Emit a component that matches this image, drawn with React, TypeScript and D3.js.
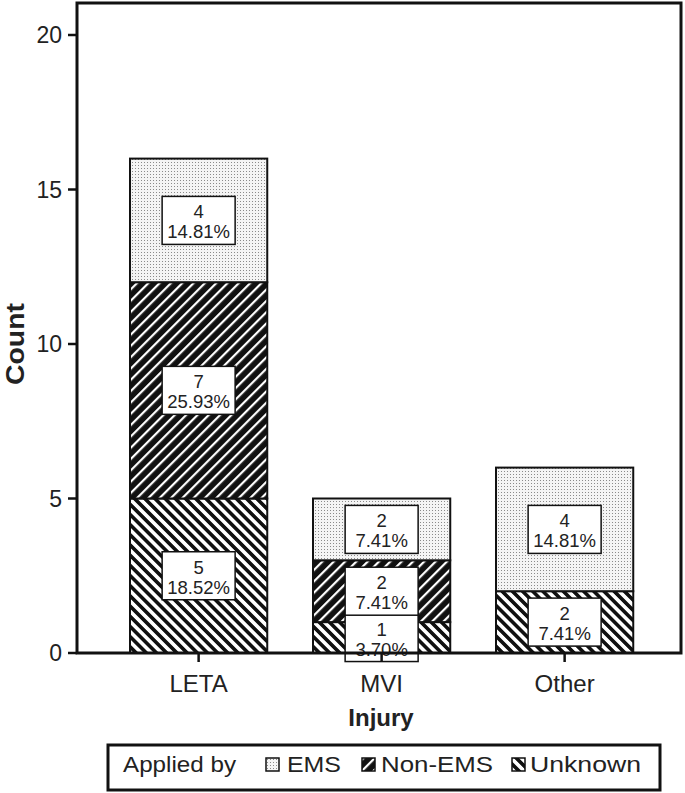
import React from "react";
import * as d3 from "d3";

const categories = ["LETA", "MVI", "Other"];
const seriesNames = ["Unknown", "Non-EMS", "EMS"];
const unknownVals = [5, 1, 2];
const nonEmsVals = [7, 2, 0];
const emsVals = [4, 2, 4];
const unknownPct = ["18.52%", "3.70%", "7.41%"];
const nonEmsPct = ["25.93%", "7.41%", "0%"];
const emsPct = ["14.81%", "7.41%", "14.81%"];
const yTicks = [0, 5, 10, 15, 20];

const W = 685, H = 793;
const left = 77, right = 681, top = 3, bottom = 653;
const FONT = "'Liberation Sans', Arial, Helvetica, sans-serif";

export default function App() {
  const y = d3.scaleLinear().domain([0, 20]).range([bottom, 35]);
  const x = d3.scaleBand().domain(categories).range([84.25, 679]).paddingInner(0.25).paddingOuter(0.25);
  const rows = categories.map((c, i) => ({ cat: c, Unknown: unknownVals[i], "Non-EMS": nonEmsVals[i], EMS: emsVals[i] }));
  const stack = d3.stack<any>().keys(seriesNames)(rows);
  const pctMap: Record<string, string[]> = { Unknown: unknownPct, "Non-EMS": nonEmsPct, EMS: emsPct };
  const fillMap: Record<string, string> = { Unknown: "url(#pUnk)", "Non-EMS": "url(#pNon)", EMS: "url(#pEms)" };
  const bw = x.bandwidth();
  const boxW = 73, boxH = 48;

  const legendItems = [
    { name: "EMS", sx: 266, tx: 287, len: 54 },
    { name: "Non-EMS", sx: 362, tx: 381, len: 112 },
    { name: "Unknown", sx: 512, tx: 530, len: 111 },
  ];

  return (
    <svg width={W} height={H} style={{ position: "absolute", left: 0, top: 0 }} fontFamily={FONT}>
      <defs>
        <pattern id="pEms" width="3" height="3" patternUnits="userSpaceOnUse">
          <rect width="3" height="3" fill="#f4f4f4" />
          <rect x="0" y="0" width="1" height="1" fill="#8a8a8a" />
        </pattern>
        <pattern id="pNon" width="8" height="8" patternUnits="userSpaceOnUse" patternTransform="rotate(45)">
          <rect width="8" height="8" fill="#111" />
          <rect x="0" y="0" width="2.2" height="8" fill="#fff" />
        </pattern>
        <pattern id="pUnk" width="7.2" height="7.2" patternUnits="userSpaceOnUse" patternTransform="rotate(-45)">
          <rect width="7.2" height="7.2" fill="#fff" />
          <rect x="0" y="0" width="3.6" height="7.2" fill="#111" />
        </pattern>
      </defs>
      <rect x={0} y={0} width={W} height={H} fill="#fff" />

      {stack.map((s) => (
        <g key={s.key}>
          {s.map((d, i) =>
            d[1] - d[0] > 0 ? (
              <rect key={i} x={x(categories[i])!} y={y(d[1])} width={bw} height={y(d[0]) - y(d[1])}
                fill={fillMap[s.key]} stroke="#111" strokeWidth={2} />
            ) : null
          )}
        </g>
      ))}

      {stack.map((s) => (
        <g key={"l" + s.key}>
          {s.map((d, i) => {
            const v = d[1] - d[0];
            if (v <= 0) return null;
            const cx = x(categories[i])! + bw / 2;
            const cy = y((d[0] + d[1]) / 2);
            return (
              <g key={i}>
                <rect x={cx - boxW / 2} y={cy - boxH / 2} width={boxW} height={boxH} fill="#fff" stroke="#111" strokeWidth={1.5} />
                <text x={cx} y={cy - 2} textAnchor="middle" fontSize={18.5} fill="#222">{v}</text>
                <text x={cx} y={cy + 18} textAnchor="middle" fontSize={18.5} fill="#222">{pctMap[s.key][i]}</text>
              </g>
            );
          })}
        </g>
      ))}

      <rect x={left} y={top} width={right - left} height={bottom - top} fill="none" stroke="#111" strokeWidth={3} />

      {yTicks.map((t) => (
        <g key={t}>
          <line x1={68} x2={left} y1={y(t)} y2={y(t)} stroke="#111" strokeWidth={2.5} />
          <text x={62} y={y(t) + 8} textAnchor="end" fontSize={23} fill="#222">{t}</text>
        </g>
      ))}
      {categories.map((c) => (
        <g key={c}>
          <line x1={x(c)! + bw / 2} x2={x(c)! + bw / 2} y1={bottom} y2={bottom + 9} stroke="#111" strokeWidth={2.5} />
          <text x={x(c)! + bw / 2} y={692} textAnchor="middle" fontSize={24} fill="#222">{c}</text>
        </g>
      ))}
      <text x={381} y={726} textAnchor="middle" fontSize={24} fontWeight="bold" fill="#222">Injury</text>
      <text transform={`translate(24,344) rotate(-90)`} textAnchor="middle" fontSize={25} fontWeight="bold" fill="#222" textLength={82} lengthAdjust="spacingAndGlyphs">Count</text>

      <rect x={108} y={745} width={552} height={45} fill="#fff" stroke="#111" strokeWidth={3} />
      <text x={123} y={772} fontSize={22} fill="#222" textLength={113} lengthAdjust="spacingAndGlyphs">Applied by</text>
      {legendItems.map((it) => (
        <g key={it.name}>
          <rect x={it.sx} y={758} width={13} height={13} fill={fillMap[it.name]} stroke="#111" strokeWidth={1.5} />
          <text x={it.tx} y={772} fontSize={22} fill="#222" textLength={it.len} lengthAdjust="spacingAndGlyphs">{it.name}</text>
        </g>
      ))}
    </svg>
  );
}
